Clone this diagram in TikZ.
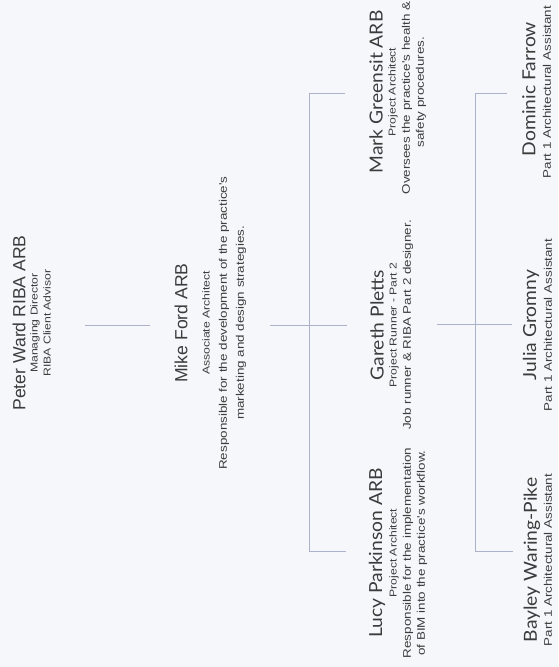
\documentclass[tikz,border=0pt]{standalone}
\usepackage{fontspec}
\setmainfont{Liberation Sans}
\newfontfamily\namefont[FakeStretch=1.07]{Lato}
\newfontfamily\widefont[FakeStretch=1.22]{Liberation Sans}
\definecolor{bg}{HTML}{F5F7FA}
\definecolor{ln}{HTML}{ADB2CB}
\definecolor{tx}{HTML}{3C3C3C}
\begin{document}
\begin{tikzpicture}[x=1pt,y=-1pt,
  every node/.style={rotate=90, text=tx, inner sep=0pt, anchor=center},
  boss/.style={font=\fontsize{17.6}{20}\selectfont},
  staff/.style={font=\namefont\fontsize{18}{21}\selectfont},
  role/.style={font=\widefont\fontsize{10}{12}\selectfont},
  desc/.style={font=\widefont\fontsize{11}{13}\selectfont},
  conn/.style={draw=ln, line width=0.9pt}]
\fill[bg] (0,0) rectangle (558,667);
\useasboundingbox (0,0) rectangle (558,667);

% Peter Ward
\node[boss] (peter) at (19,323) {Peter Ward RIBA ARB};
\node[role] (peter-r1) at (35,323) {Managing Director};
\node[role] (peter-r2) at (47,323) {RIBA Client Advisor};

% Mike Ford
\node[boss] (mike) at (181,323) {Mike Ford ARB};
\node[role] (mike-r) at (206,323) {Associate Architect};
\node[desc] (mike-d1) at (224,323) {Responsible for the development of the practice's};
\node[desc] (mike-d2) at (241,323) {marketing and design strategies.};

% Middle row
\node[staff] (lucy) at (377,553) {Lucy Parkinson ARB};
\node[role] (lucy-r) at (394,553) {Project Architect};
\node[desc] (lucy-d1) at (408,553) {Responsible for the implementation};
\node[desc] (lucy-d2) at (422,553) {of BIM into the practice's workflow.};

\node[staff] (gareth) at (377,325) {Gareth Pletts};
\node[role] (gareth-r) at (394,325) {Project Runner - Part 2};
\node[desc] (gareth-d) at (408,325) {Job runner \& RIBA Part 2 designer.};

\node[staff] (mark) at (376,92) {Mark Greensit ARB};
\node[role] (mark-r) at (393,92) {Project Architect};
\node[desc] (mark-d1) at (407,98) {Oversees the practice's health \&};
\node[desc] (mark-d2) at (421,92) {safety procedures.};

% Bottom row
\node[staff] (bayley) at (532,560) {Bayley Waring-Pike};
\node[desc] (bayley-r) at (548,560) {Part 1 Architectural Assistant};
\node[staff] (julia) at (531,325) {Julia Gromny};
\node[desc] (julia-r) at (548,325) {Part 1 Architectural Assistant};
\node[staff] (dominic) at (529,89) {Dominic Farrow};
\node[desc] (dominic-r) at (547,92) {Part 1 Architectural Assistant};

% connectors
\coordinate (pm-a) at (85,325);
\coordinate (pm-b) at (150,325);
\draw[conn] (pm-a) -- (pm-b);

\coordinate (m-a) at (270,325);
\coordinate (m-b) at (347,325);
\coordinate (m-top) at (309,93);
\coordinate (m-bot) at (309,551);
\coordinate (m-topend) at (345,93);
\coordinate (m-botend) at (346,551);
\draw[conn] (m-a) -- (m-b);
\draw[conn] (m-topend) -- (m-top) -- (m-bot) -- (m-botend);

\coordinate (g-a) at (437,324);
\coordinate (g-b) at (512,324);
\coordinate (g-top) at (475,93);
\coordinate (g-bot) at (475,551);
\coordinate (g-topend) at (507,93);
\coordinate (g-botend) at (513,551);
\draw[conn] (g-a) -- (g-b);
\draw[conn] (g-topend) -- (g-top) -- (g-bot) -- (g-botend);
\end{tikzpicture}
\end{document}
